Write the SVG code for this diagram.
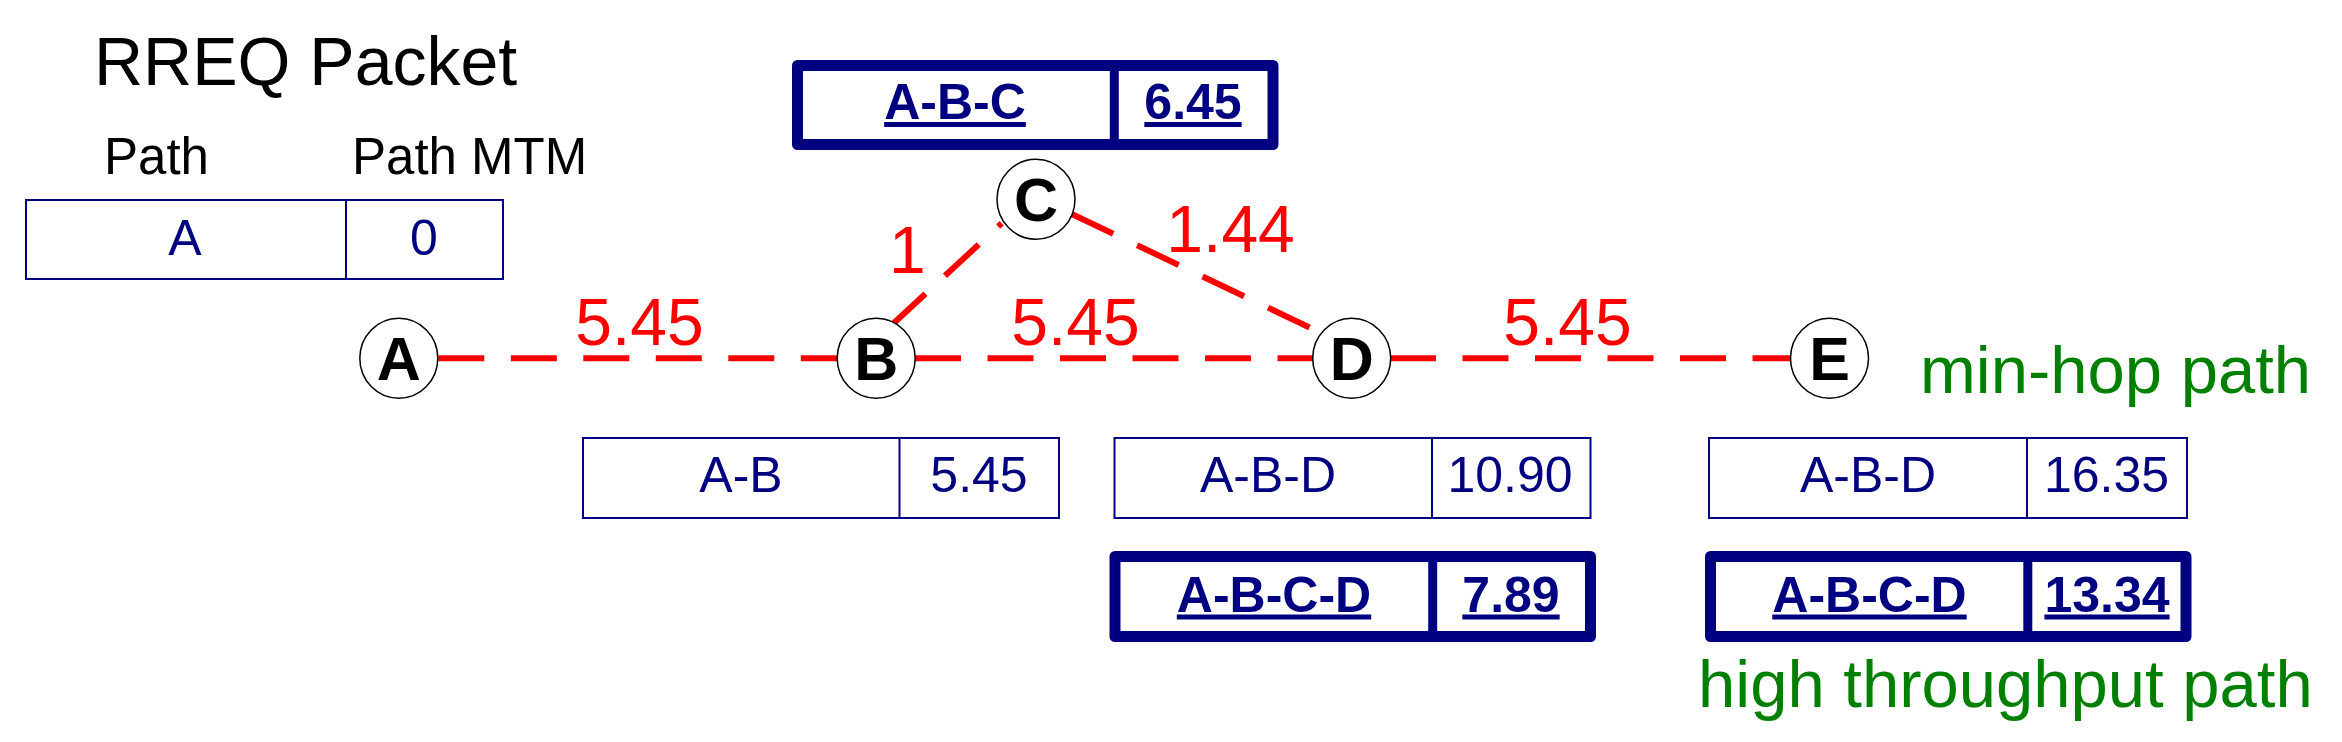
<svg xmlns="http://www.w3.org/2000/svg" width="2342" height="742" viewBox="0 0 2342 742">
<style>
text { font-family: "Liberation Sans", Arial, sans-serif; }
.title { font-size: 68px; fill: #000; }
.hdr { font-size: 51px; fill: #000; }
.cell { font-size: 50px; fill: #000080; text-anchor: middle; }
.best { font-size: 50px; fill: #000080; font-weight: bold; text-anchor: middle; text-decoration: underline; }
.box { fill: #fff; stroke: #000080; stroke-width: 2; }
.thick { fill: #fff; stroke: #000080; stroke-width: 11; stroke-linejoin: round; }
.dv { stroke: #000080; stroke-width: 2; }
.dvt { stroke: #000080; stroke-width: 9; }
.node { fill: #fff; stroke: #000; stroke-width: 1.5; }
.nl { font-size: 61px; font-weight: bold; fill: #000; text-anchor: middle; }
.edge { stroke: #ff0000; stroke-width: 6; stroke-dasharray: 46 26.5; fill: none; }
.wl { font-size: 66px; fill: #ff0000; }
.note { font-size: 67px; fill: #008000; }
</style>
<rect x="0" y="0" width="2342" height="742" fill="#fff"/>

<g id="legend">
  <text class="title" x="94" y="85">RREQ Packet</text>
  <text class="hdr" x="104" y="174">Path</text>
  <text class="hdr" x="352" y="174">Path MTM</text>
</g>

<g id="packet-A">
  <rect class="box" x="26" y="200" width="477" height="79"/>
  <line class="dv" x1="346" y1="200" x2="346" y2="279"/>
  <text class="cell" x="185" y="255">A</text>
  <text class="cell" x="424" y="255">0</text>
</g>

<g id="packet-ABC">
  <rect class="thick" x="797.5" y="65.5" width="475.5" height="79"/>
  <line class="dvt" x1="1114.3" y1="65.5" x2="1114.3" y2="144.5"/>
  <text class="best" x="955" y="119">A-B-C</text>
  <text class="best" x="1193" y="119">6.45</text>
</g>

<g id="connectors">
  <line class="edge" x1="438.3" y1="358.3" x2="837.3" y2="358.3"/>
  <line class="edge" x1="915" y1="358.3" x2="1313.3" y2="358.3"/>
  <line class="edge" x1="1390" y1="358.3" x2="1790" y2="358.3"/>
  <line class="edge" x1="891.7" y1="325" x2="1001.7" y2="223.3"/>
  <line class="edge" x1="1071.7" y1="214" x2="1321.6" y2="333.2"/>
  <text class="wl" x="639.5" y="345" text-anchor="middle">5.45</text>
  <text class="wl" x="1075.5" y="345" text-anchor="middle">5.45</text>
  <text class="wl" x="1567.5" y="345" text-anchor="middle">5.45</text>
  <text class="wl" x="889" y="273">1</text>
  <text class="wl" x="1230.6" y="251.5" text-anchor="middle">1.44</text>
</g>

<g id="node-A">
  <ellipse class="node" cx="398.8" cy="358.3" rx="39" ry="40"/>
  <text class="nl" x="398.8" y="380">A</text>
</g>
<g id="node-B">
  <ellipse class="node" cx="876.2" cy="358.3" rx="39" ry="40"/>
  <text class="nl" x="876.2" y="380">B</text>
</g>
<g id="node-C">
  <ellipse class="node" cx="1036" cy="199.3" rx="39" ry="40"/>
  <text class="nl" x="1036" y="221">C</text>
</g>
<g id="node-D">
  <ellipse class="node" cx="1351.7" cy="358.3" rx="39" ry="40"/>
  <text class="nl" x="1351.7" y="380">D</text>
</g>
<g id="node-E">
  <ellipse class="node" cx="1829.5" cy="358.3" rx="39" ry="40"/>
  <text class="nl" x="1829.5" y="380">E</text>
</g>

<g id="packet-AB">
  <rect class="box" x="583" y="438" width="476" height="80"/>
  <line class="dv" x1="899.5" y1="438" x2="899.5" y2="518"/>
  <text class="cell" x="741" y="492">A-B</text>
  <text class="cell" x="979" y="492">5.45</text>
</g>

<g id="packet-ABD-at-D">
  <rect class="box" x="1114.5" y="438" width="476" height="80"/>
  <line class="dv" x1="1432" y1="438" x2="1432" y2="518"/>
  <text class="cell" x="1268" y="492">A-B-D</text>
  <text class="cell" x="1510" y="492">10.90</text>
</g>

<g id="packet-ABD-at-E">
  <rect class="box" x="1709" y="438" width="478" height="80"/>
  <line class="dv" x1="2027" y1="438" x2="2027" y2="518"/>
  <text class="cell" x="1868" y="492">A-B-D</text>
  <text class="cell" x="2106.5" y="492">16.35</text>
</g>

<g id="packet-ABCD-at-D">
  <rect class="thick" x="1115" y="556.5" width="475.5" height="80"/>
  <line class="dvt" x1="1432.7" y1="556.5" x2="1432.7" y2="636.5"/>
  <text class="best" x="1274" y="611.5">A-B-C-D</text>
  <text class="best" x="1511" y="611.5">7.89</text>
</g>

<g id="packet-ABCD-at-E">
  <rect class="thick" x="1710.5" y="556.5" width="475.5" height="80"/>
  <line class="dvt" x1="2027.8" y1="556.5" x2="2027.8" y2="636.5"/>
  <text class="best" x="1869.5" y="611.5">A-B-C-D</text>
  <text class="best" x="2107" y="611.5">13.34</text>
</g>

<g id="path-notes">
  <text class="note" x="1920" y="393.3">min-hop path</text>
  <text class="note" x="1698" y="706.7">high throughput path</text>
</g>
</svg>
